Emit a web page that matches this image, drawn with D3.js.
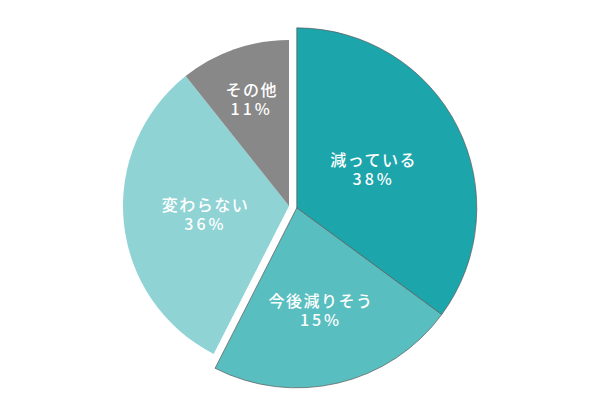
<!DOCTYPE html>
<html>
<head>
<meta charset="utf-8">
<script src="https://cdn.jsdelivr.net/npm/d3@7"></script>
<style>
  body { margin: 0; background: #fff; }
  .slice-label { font-family: "Noto Sans CJK JP", sans-serif; font-weight: 500; fill: #fff; }
</style>
</head>
<body>
<div id="chart"></div>
<script>
// Chart data
const categories = ['減っている', '今後減りそう', '変わらない', 'その他'];
// percentages printed on the slices
const shares = [38, 15, 36, 11];
// slice sizes as drawn in the picture (measured angles, in %)
const sliceSizes = [35.1, 22.4, 31.8, 10.7];
const colors = ['#1ca5ab', '#58bec0', '#90d3d5', '#888888'];
// slices pulled out of the pie together
const highlighted = ['減っている', '今後減りそう'];

const width = 600;
const height = 411;
const center = { x: 289, y: 206 };
const radius = 166;
const bigRadius = 180;
const pullOut = 8;

const svg = d3.select('#chart').append('svg')
  .attr('width', width)
  .attr('height', height);

const pie = d3.pie()
  .sort(null)
  .value(d => d.size);

const arcs = pie(categories.map((c, i) => ({
  name: c, share: shares[i], size: sliceSizes[i], color: colors[i]
})));

const isHigh = d => highlighted.includes(d.data.name);

// offset of the pulled-out group along its middle angle
const highArcs = arcs.filter(isHigh);
const restArcs = arcs.filter(d => !isHigh(d));
const groupMid = (d3.min(highArcs, d => d.startAngle) + d3.max(highArcs, d => d.endAngle)) / 2;
const groupShift = { x: pullOut * Math.sin(groupMid), y: -pullOut * Math.cos(groupMid) };

const arcSmall = d3.arc().innerRadius(0).outerRadius(radius);
const arcBig = d3.arc().innerRadius(0).outerRadius(bigRadius);

const restG = svg.append('g')
  .attr('transform', `translate(${center.x},${center.y})`);
const highG = svg.append('g')
  .attr('transform', `translate(${center.x + groupShift.x},${center.y + groupShift.y})`);

restG.selectAll('path')
  .data(restArcs)
  .join('path')
  .attr('d', arcSmall)
  .attr('fill', d => d.data.color);

highG.selectAll('path')
  .data(highArcs)
  .join('path')
  .attr('d', arcBig)
  .attr('fill', d => d.data.color)
  .attr('stroke', '#5a5a5a')
  .attr('stroke-width', 0.7);

// labels: narrow slices get their label pushed further out
function labelPos(d, r) {
  const p = (d.endAngle - d.startAngle) / (2 * Math.PI);
  const frac = 0.77 - 0.83 * p;
  const a = (d.startAngle + d.endAngle) / 2;
  return [frac * r * Math.sin(a), -frac * r * Math.cos(a)];
}

function addLabels(g, data, r) {
  const t = g.selectAll('text')
    .data(data)
    .join('text')
    .attr('class', 'slice-label')
    .attr('text-anchor', 'middle')
    .attr('transform', d => `translate(${labelPos(d, r)})`);

  t.append('tspan')
    .attr('x', 0)
    .attr('y', -3)
    .style('font-size', '16px')
    .style('letter-spacing', '1.5px')
    .text(d => d.data.name);

  t.append('tspan')
    .attr('x', 0)
    .attr('y', 16)
    .style('font-size', '16px')
    .style('letter-spacing', '3px')
    .text(d => d.data.share + '%');
}

addLabels(restG, restArcs, radius);
addLabels(highG, highArcs, bigRadius);
</script>
</body>
</html>
